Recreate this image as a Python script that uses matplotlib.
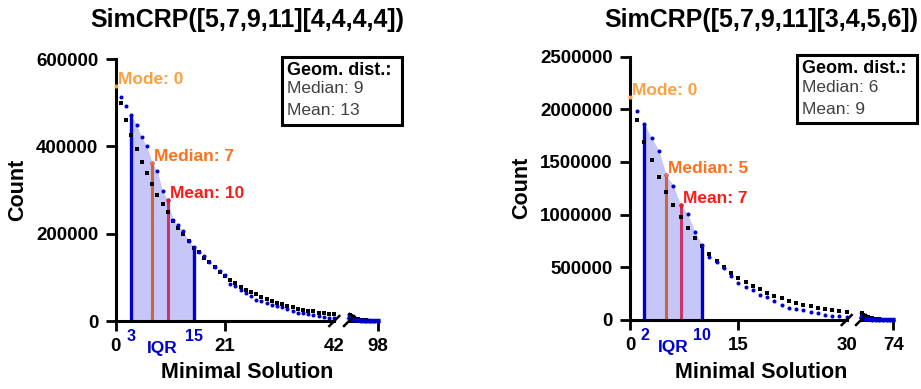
import matplotlib.pyplot as plt
import numpy as np
from matplotlib.patches import Rectangle
from matplotlib.lines import Line2D
from matplotlib.transforms import blended_transform_factory

plt.rcParams['font.family'] = ['Liberation Sans', 'DejaVu Sans']

# ---- SimCRP([5,7,9,11][4,4,4,4]) (valores em milhares)
sim_a = [538, 514, 493, 472, 449, 421, 400, 362, 343, 298, 277, 232, 219, 206, 183,
         170, 158, 150, 136, 124, 114, 105, 84, 80, 72, 65, 58, 49, 45, 41, 37, 35,
         32, 27, 24, 18, 18, 16, 13, 12, 10, 8, 8]
geo_a = [499, 460, 427, 394, 365, 338, 313, 289, 268, 249, 230, 214, 200, 184, 168,
         157, 145, 135, 124, 113, 104, 94, 87, 78, 72, 66, 61, 55, 50, 45, 41, 38,
         35, 32, 28, 26, 24, 22, 19, 18, 16, 15]
tail_x_a = [43, 45, 48, 52, 56, 60, 65, 70, 75, 80, 85, 90, 98]
tail_sim_a = [7, 6, 4.5, 3, 2, 1.4, 0.8, 0.5, 0.3, 0.2, 0.1, 0.05, 0]
tail_geo_a = [14.5, 12.5, 10, 7.5, 5.5, 4, 2.8, 1.8, 1.2, 0.8, 0.5, 0.3, 0.1]

# ---- SimCRP([5,7,9,11][3,4,5,6])
sim_b = [2114, 1981, 1861, 1725, 1608, 1377, 1275, 1092, 1003, 839, 712, 595, 547,
         497, 421, 348, 313, 288, 237, 215, 180, 142, 117, 108, 95, 73, 70, 47, 41,
         35, 28]
geo_b = [1896, 1693, 1519, 1361, 1218, 1092, 975, 877, 782, 703, 627, 560, 500, 449,
         402, 361, 326, 291, 259, 231, 206, 184, 161, 146, 130, 114, 101, 92, 82, 73]
tail_x_b = [31, 33, 36, 40, 45, 50, 55, 60, 65, 70, 74]
tail_sim_b = [25, 20, 14, 8, 4, 2, 1, 0.5, 0.2, 0.1, 0]
tail_geo_b = [65, 52, 38, 25, 15, 9, 5, 3, 2, 1, 0.6]

panels = [
    dict(title='SimCRP([5,7,9,11][4,4,4,4])', sim=sim_a, geo=geo_a,
         tx=tail_x_a, tsim=tail_sim_a, tgeo=tail_geo_a,
         mode=0, median=7, mean=10, q1=3, q3=15, xmid=21, xbreak=42, xmax=98,
         yticks=[0, 200000, 400000, 600000], geo_med=9, geo_mean=13,
         main=(115.7, 321, 334.3, 59), tail=(349, 378.3), box=(281.7, 56.7)),
    dict(title='SimCRP([5,7,9,11][3,4,5,6])', sim=sim_b, geo=geo_b,
         tx=tail_x_b, tsim=tail_sim_b, tgeo=tail_geo_b,
         mode=0, median=5, mean=7, q1=2, q3=10, xmid=15, xbreak=30, xmax=74,
         yticks=[0, 500000, 1000000, 1500000, 2000000, 2500000], geo_med=6, geo_mean=9,
         main=(630, 320, 846.7, 56.5), tail=(861, 893.3), box=(796.7, 55)),
]

W, H = 921, 389
fig = plt.figure(figsize=(W / 100, H / 100), dpi=100)

BLUE = '#0000cc'
FILL = '#c6c6f8'
C_MODE = '#ffa040'
C_MED = '#ff7020'
C_MEAN = '#ff1a1a'


def fx(px):
    return px / W


def fy(py):
    return 1 - py / H


for p in panels:
    x0, yb, x1, yt = p['main']
    ax = fig.add_axes([fx(x0), fy(yb), fx(x1 - x0), (yb - yt) / H])
    t0, t1 = p['tail']
    ax2 = fig.add_axes([fx(t0), fy(yb), fx(t1 - t0), (yb - yt) / H])

    sim = np.array(p['sim']) * 1000
    geo = np.array(p['geo']) * 1000
    xs = np.arange(len(sim))
    xg = np.arange(1, len(geo) + 1)
    ymax = p['yticks'][-1]

    # IQR
    m = (xs >= p['q1']) & (xs <= p['q3'])
    ax.fill_between(xs[m], 0, sim[m], color=FILL, lw=0, zorder=1)
    ax.vlines([p['q1'], p['q3']], 0, [sim[p['q1']], sim[p['q3']]], color=BLUE, lw=2.4, zorder=2)
    ax.vlines(p['median'], 0, sim[p['median']], color='#cc6633', lw=2.2, zorder=2)
    ax.vlines(p['mean'], 0, sim[p['mean']], color='#cc3366', lw=2.2, zorder=2)

    ax.plot(xg, geo, 's', color='black', ms=2.8, mew=0, zorder=3, clip_on=False)
    ax.plot(xs[1:], sim[1:], 'o', color=BLUE, ms=2.9, mew=0, zorder=4, clip_on=False)

    for xv, col, lab in [(p['mode'], C_MODE, 'Mode: %d' % p['mode']),
                         (p['median'], C_MED, 'Median: %d' % p['median']),
                         (p['mean'], C_MEAN, 'Mean: %d' % p['mean'])]:
        ax.plot(xv, sim[xv], 'o', color=col, ms=3, mew=0, zorder=5, clip_on=False)
        ax.annotate(lab, (xv, sim[xv]), xytext=(1.5, 4.5), textcoords='offset points',
                    color=col, fontsize=12.5, fontweight='bold', va='center', ha='left')

    ax.set_xlim(0, p['xbreak'])
    ax.set_ylim(0, ymax)
    ax.set_yticks(p['yticks'])
    ax.set_yticklabels([str(v) for v in p['yticks']])
    ax.set_xticks([0, p['xmid'], p['xbreak']])
    ax.set_xticklabels(['0', str(p['xmid']), str(p['xbreak'])])
    ax.xaxis.get_major_ticks()[2].tick1line.set_visible(False)
    for s in ['top', 'right']:
        ax.spines[s].set_visible(False)
    for s in ['left', 'bottom']:
        ax.spines[s].set_linewidth(2.2)
    ax.tick_params(width=2.0, length=7.5, labelsize=13.5, pad=5)
    for lbl in ax.get_xticklabels() + ax.get_yticklabels():
        lbl.set_fontweight('bold')
    ax.set_ylabel('Count', fontsize=15.5, fontweight='bold', labelpad=6)

    # rótulos do IQR
    tr = blended_transform_factory(ax.transData, ax.transAxes)
    for q in [p['q1'], p['q3']]:
        ax.annotate(str(q), (q, 0), xycoords=tr, xytext=(0, -11.5), textcoords='offset points',
                    color=BLUE, fontsize=11.5, fontweight='bold', ha='center', va='center')
    ax.annotate('IQR', ((p['q1'] + p['q3']) / 2, 0), xycoords=tr, xytext=(0, -19.5),
                textcoords='offset points', color=BLUE, fontsize=12.5, fontweight='bold',
                ha='center', va='center')

    # segmento depois da quebra
    tx = np.array(p['tx'])
    ax2.plot(tx, np.array(p['tgeo']) * 1000, '-s', color='black', ms=3, lw=2.5, mew=0,
             zorder=3, clip_on=False)
    ax2.plot(tx, np.array(p['tsim']) * 1000, '-o', color=BLUE, ms=3, lw=3.2, mew=0,
             zorder=4, clip_on=False)
    ax2.set_xlim(p['xbreak'], p['xmax'])
    ax2.set_ylim(0, ymax)
    ax2.set_yticks([])
    ax2.set_xticks([p['xmax']])
    ax2.set_xticklabels([str(p['xmax'])])
    for s in ['top', 'right', 'left']:
        ax2.spines[s].set_visible(False)
    ax2.spines['bottom'].set_linewidth(2.2)
    ax2.tick_params(width=2.0, length=7.5, labelsize=13.5, pad=5)
    for lbl in ax2.get_xticklabels():
        lbl.set_fontweight('bold')
    ax2.patch.set_visible(False)

    # marcas de quebra
    for cx in [x1, t0]:
        fig.add_artist(Line2D([fx(cx - 5), fx(cx + 5)], [fy(yb + 5), fy(yb - 5)],
                              transform=fig.transFigure, color='black', lw=1.8))

    # títulos
    cxm = (x0 + t1) / 2
    fig.text(fx(cxm), fy(20), p['title'], fontsize=18, fontweight='bold',
             ha='center', va='center')
    fig.text(fx(cxm), fy(373), 'Minimal Solution', fontsize=15.5, fontweight='bold',
             ha='center', va='center')

    # caixa da distribuição geométrica
    bx, by = p['box']
    fig.add_artist(Rectangle((fx(bx), fy(by + 68)), fx(120), 68 / H,
                             transform=fig.transFigure, fill=False, ec='black', lw=2.2))
    fig.text(fx(bx + 5), fy(by + 13.5), 'Geom. dist.:', fontsize=13, fontweight='bold',
             ha='left', va='center')
    fig.text(fx(bx + 5), fy(by + 32), 'Median: %d' % p['geo_med'], fontsize=12.5,
             color='#404040', ha='left', va='center')
    fig.text(fx(bx + 5), fy(by + 54), 'Mean: %d' % p['geo_mean'], fontsize=12.5,
             color='#404040', ha='left', va='center')

plt.savefig('out.png', dpi=100)
